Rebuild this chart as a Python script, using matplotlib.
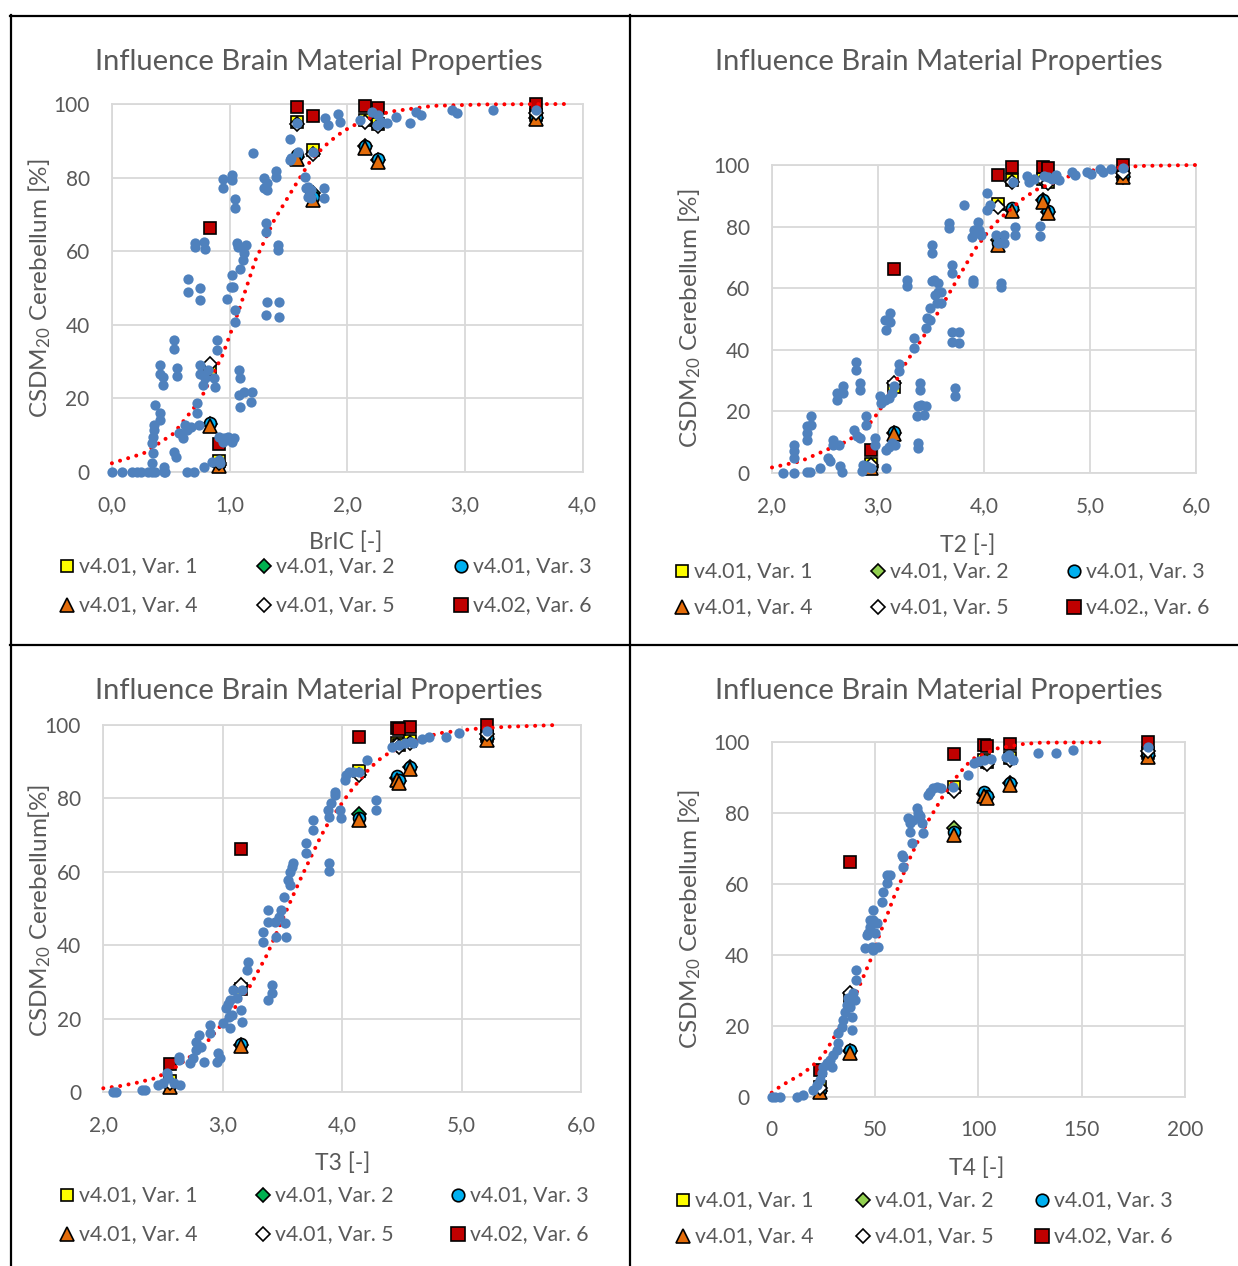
import matplotlib
matplotlib.use("Agg")
import matplotlib.pyplot as plt
from matplotlib.lines import Line2D

plt.rcParams["font.family"] = ["Lato", "DejaVu Sans"]
plt.rcParams["mathtext.fontset"] = "custom"
plt.rcParams["mathtext.rm"] = "Lato"
plt.rcParams["mathtext.it"] = "Lato:italic"

# ---------------------------------------------------------------- data
# Seven reference impact cases (A..G): metric value per case
cases = ["A", "B", "C", "D", "E", "F", "G"]
bric_case = [0.91, 0.83, 1.57, 1.71, 2.15, 2.26, 3.60]
t2_case = [2.93, 3.15, 4.26, 4.13, 4.56, 4.60, 5.31]
t3_case = [2.56, 3.15, 4.46, 4.14, 4.57, 4.48, 5.21]
t4_case = [23.5, 38.0, 102.5, 88.0, 115.5, 104.0, 182.0]

# CSDM20 cerebellum [%] per brain material variant and case
var1_y = [3.0, 28.0, 95.0, 87.5, 95.6, 94.5, 97.0]
var2_y = [1.8, 13.0, 85.5, 75.8, 88.5, 84.7, 96.2]
var3_y = [2.0, 13.2, 86.0, 74.6, 88.6, 85.0, 96.6]
var4_y = [1.5, 12.5, 85.0, 74.0, 88.0, 84.3, 96.0]
var5_y = [2.5, 29.3, 94.5, 86.4, 95.0, 94.0, 97.5]
var6_y = [7.6, 66.3, 99.3, 96.8, 99.5, 99.0, 100.0]

variant_labels = ["v4.01, Var. 1", "v4.01, Var. 2", "v4.01, Var. 3",
                  "v4.01, Var. 4", "v4.01, Var. 5", "v4.02, Var. 6"]
variant_labels_t2 = ["v4.01, Var. 1", "v4.01, Var. 2", "v4.01, Var. 3",
                     "v4.01, Var. 4", "v4.01, Var. 5", "v4.02., Var. 6"]

# Full simulation set (blue points)
bric_x = [0.0, 0.085, 0.17, 0.21, 0.25, 0.31, 0.34, 0.37, 0.44, 0.45, 0.64, 0.70,
          0.78, 0.85, 0.91, 0.92,
          0.34, 0.35, 0.34, 0.35, 0.355, 0.355, 0.41, 0.41, 0.37, 0.44,
          0.41, 0.41, 0.43, 0.43,
          0.53, 0.53, 0.55, 0.55,
          0.525, 0.545,
          0.57, 0.605, 0.64, 0.67, 0.625, 0.72, 0.72, 0.74,
          0.75, 0.75, 0.77, 0.79, 0.82, 0.87, 0.875, 0.89, 0.89,
          0.91, 0.95, 0.99, 1.04, 1.02, 0.94,
          0.65, 0.65, 0.75, 0.75,
          0.71, 0.71, 0.78, 0.79,
          0.94, 0.94, 1.02, 1.02,
          1.045, 1.045,
          1.065, 1.136, 1.07, 1.12, 1.11, 1.09, 1.02, 1.01, 0.98, 1.05, 1.045, 1.03,
          1.08, 1.09, 1.08, 1.12, 1.09, 1.19, 1.185,
          1.20,
          1.29, 1.32, 1.29, 1.32, 1.39, 1.39,
          1.31, 1.31, 1.41, 1.41,
          1.32, 1.31, 1.42, 1.42,
          1.51, 1.52, 1.58, 1.51, 1.57,
          1.64, 1.65, 1.67, 1.69, 1.69, 1.80, 1.67, 1.80, 1.71,
          1.81, 1.84, 1.92, 1.94,
          2.11, 2.21, 2.26, 2.29, 2.34, 2.25, 2.41, 2.53, 2.58, 2.63, 2.89, 2.93, 3.24, 3.60]
bric_y = [0, 0, 0, 0, 0, 0, 0, 0, 0, 0, 0, 0,
          1.4, 2.7, 3.2, 2.3,
          2.3, 5.0, 7.7, 9.5, 11.3, 12.7, 14.0, 15.9, 18.1, 1.4,
          29.0, 26.7, 25.8, 23.6,
          35.8, 33.3, 28.1, 26.0,
          5.4, 4.1,
          10.4, 9.1, 11.3, 12.2, 12.7, 18.6, 15.9, 12.7,
          26.7, 29.0, 23.6, 25.4, 27.6, 25.4, 23.1, 35.8, 33.1,
          9.5, 9.1, 9.5, 9.1, 8.2, 8.2,
          52.3, 49.0, 49.9, 46.7,
          62.1, 61.2, 62.6, 60.7,
          79.5, 77.1, 80.7, 79.3,
          74.1, 71.6,
          62.1, 61.7, 61.2, 59.4, 57.6, 55.0, 53.5, 50.3, 47.1, 44.0, 40.8, 50.3,
          27.7, 25.4, 20.9, 21.8, 17.7, 21.8, 19.0,
          86.8,
          79.8, 78.4, 77.1, 76.6, 81.9, 80.2,
          67.7, 65.3, 61.7, 60.3,
          46.2, 42.6, 46.2, 42.2,
          90.4, 85.2, 87.0, 84.8, 94.7,
          80.2, 77.1, 77.5, 76.6, 74.3, 77.1, 74.8, 74.3, 87.0,
          96.1, 94.3, 97.2, 95.1,
          95.6, 97.8, 96.9, 95.1, 94.8, 94.3, 96.4, 94.8, 97.9, 97.0, 98.4, 97.6, 98.4, 98.4]

t2_x = [2.10, 2.21, 2.33, 2.36, 2.45, 2.53, 2.55, 2.64, 2.66, 2.85, 2.86, 2.93, 2.90,
        2.21, 2.21, 2.21, 2.33, 2.33, 2.33, 2.37, 2.37,
        2.58, 2.63, 2.58, 2.61, 2.61, 2.67, 2.67,
        2.77, 2.80, 2.83, 2.79, 2.79, 2.83, 2.83, 2.89, 2.89,
        2.97, 2.97, 3.08, 3.10, 3.13, 3.16, 3.08,
        3.02, 3.03, 3.07, 3.10, 3.13, 3.15,
        3.07, 3.08, 3.11, 3.11,
        3.20, 3.20, 3.27, 3.27,
        3.34, 3.34, 3.40, 3.40, 3.38, 3.41, 3.45, 3.43, 3.37, 3.38, 3.38,
        3.45, 3.46, 3.49, 3.49, 3.56, 3.54, 3.57, 3.51, 3.53, 3.57, 3.51, 3.51,
        3.67, 3.67, 3.70, 3.70, 3.70, 3.76, 3.70, 3.76, 3.73, 3.73,
        3.59, 3.59,
        3.81, 3.90, 3.90, 3.91, 3.94, 3.95, 3.89, 3.97, 4.03, 4.03, 4.06,
        4.16, 4.16, 4.11, 4.13, 4.19, 4.19, 4.29, 4.29, 4.53, 4.53,
        4.27, 4.41, 4.42, 4.47, 4.57, 4.60, 4.64, 4.68, 4.71, 4.83, 4.86, 4.97, 5.01,
        5.09, 5.12, 5.20, 5.31]
t2_y = [0, 0, 0.3, 0.3, 1.6, 4.9, 3.8, 2.2, 0.2, 0.5, 2.7, 1.6, 2.4,
        9.2, 7.0, 4.9, 15.1, 13.0, 10.8, 18.4, 15.7,
        10.8, 9.2, 9.2, 25.9, 23.8, 28.1, 25.9,
        14.1, 11.9, 11.4, 35.9, 33.3, 29.2, 27.0, 18.4, 15.7,
        11.4, 9.2, 1.6, 8.6, 9.7, 9.2, 7.6,
        24.9, 22.7, 23.8, 24.3, 25.9, 28.1,
        49.7, 46.5, 52.1, 48.9,
        35.5, 33.0, 62.7, 60.8,
        43.8, 40.5, 29.2, 27.0, 21.6, 22.2, 21.6, 18.9, 18.4, 9.7, 8.1,
        47.0, 50.3, 53.5, 49.7, 55.1, 57.8, 58.9, 62.2, 62.7, 61.6, 74.1, 71.4,
        81.1, 79.4, 67.5, 65.0, 45.9, 45.9, 42.6, 42.3, 27.5, 25.0,
        58.9, 55.1,
        87.0, 62.7, 61.6, 78.9, 81.6, 78.9, 76.7, 77.3, 90.8, 85.4, 87.0,
        60.5, 61.6, 77.3, 74.6, 77.3, 74.6, 80.0, 77.3, 80.2, 77.0,
        94.6, 96.4, 94.6, 95.3, 96.4, 96.0, 95.3, 96.8, 95.1, 97.6, 96.8, 97.8, 97.0,
        98.6, 97.8, 98.6, 98.9]

t3_x = [2.08, 2.11, 2.32, 2.35, 2.46, 2.50, 2.53, 2.54, 2.59, 2.64, 2.63, 2.63, 2.73, 2.75,
        2.78, 2.78, 2.80, 2.82, 2.84, 2.89, 2.89, 2.95, 2.96, 2.98,
        3.06, 3.05, 3.03, 3.06, 3.09, 3.12, 3.15, 3.16, 3.16, 3.20, 3.21, 3.00, 3.04, 3.08,
        3.34, 3.34, 3.38, 3.38, 3.44, 3.45, 3.47, 3.49, 3.51, 3.52, 3.53,
        3.38, 3.41, 3.41,
        3.55, 3.56, 3.59, 3.58, 3.56,
        3.70, 3.70, 3.76, 3.76,
        3.89, 3.89, 3.88, 3.89, 3.91, 3.94, 3.94, 3.98, 3.99, 4.02, 4.03, 4.06, 4.09, 4.14,
        4.21, 4.28, 4.28,
        4.42, 4.48, 4.53, 4.58, 4.59, 4.67, 4.73, 4.87, 4.98, 5.21]
t3_y = [0, 0, 0.5, 0.5, 2.0, 2.5, 5.2, 3.8, 2.5, 2.0, 8.8, 9.7, 7.9, 9.3,
        11.5, 13.8, 15.6, 12.4, 8.3, 18.3, 16.1, 8.3, 10.6, 9.3,
        17.4, 20.6, 22.9, 25.1, 27.9, 25.6, 22.4, 19.2, 27.9, 33.3, 35.6, 19.0, 24.0, 21.0,
        41.0, 43.7, 46.5, 49.6, 46.5, 42.4, 47.8, 49.6, 53.3, 46.0, 42.4,
        25.1, 26.9, 29.2,
        57.8, 60.1, 62.3, 61.4, 56.4,
        65.1, 67.8, 71.4, 74.1,
        62.3, 60.3, 76.9, 75.0, 78.7, 80.9, 81.8, 76.9, 74.6, 85.0, 86.4, 87.3, 87.3, 87.3,
        90.5, 79.6, 76.9,
        94.1, 94.6, 95.2, 95.5, 95.0, 96.1, 96.8, 96.8, 97.7, 98.5]

t4_x = [0, 1.6, 4.0, 12.1, 15.3, 20.2, 21.8, 23.4, 24.2, 25.0, 26.6, 28.2, 29.0, 29.8,
        31.5, 32.3, 32.3, 33.9, 34.7, 35.5, 36.3, 37.1, 37.9, 38.7, 38.7, 39.5, 40.3,
        40.8, 40.8,
        45.2, 46.0, 47.6, 47.6, 49.2, 49.2, 50.0, 50.8, 51.6, 48.4, 49.2, 46.8,
        53.2, 54.0, 55.6, 56.5, 55.6, 57.3,
        63.7, 63.7, 67.7, 66.9, 66.9, 66.1, 68.5, 70.5, 71.0, 72.6, 73.4, 71.8, 62.9,
        75.8, 76.6, 78.2, 79.8, 81.9, 87.6, 94.8, 98.1, 100.5, 102.9, 106.1, 113.4,
        116.6, 115.0, 128.7, 137.6, 145.6, 182.3]
t4_y = [0, 0, 0, 0.2, 0.7, 2.1, 3.5, 4.9, 6.8, 8.6, 9.6, 10.5, 8.6, 11.9,
        13.3, 15.2, 18.0, 19.9, 21.8, 24.1, 26.0, 27.9, 25.5, 22.7, 19.0, 29.3, 27.4,
        33.0, 35.9,
        42.0, 45.7, 48.1, 50.0, 52.8, 50.0, 46.2, 49.0, 42.4, 42.4, 41.5, 46.2,
        55.1, 57.9, 60.3, 62.2, 62.6, 62.6,
        65.0, 67.8, 71.5, 74.8, 77.2, 78.6, 78.1, 81.4, 80.0, 77.2, 74.4, 79.1, 68.3,
        85.2, 86.1, 87.0, 87.5, 87.0, 87.5, 90.8, 94.1, 94.6, 95.0, 95.2, 96.0,
        95.0, 96.4, 96.9, 97.1, 97.8, 98.8]

# Risk curves (dotted red)
bric_fit_x = [0.0, 0.27, 0.525, 0.75, 0.94, 1.08, 1.22, 1.38, 1.55, 1.70, 1.85, 1.97,
              2.15, 2.36, 2.73, 3.2, 3.88]
bric_fit_y = [2.3, 5.0, 10.4, 19.5, 31.7, 44.0, 57.6, 68.5, 77.5, 85.2, 89.8, 92.7,
              95.8, 97.9, 99.5, 99.9, 100.0]
t2_fit_x = [2.0, 2.27, 2.52, 2.71, 2.90, 3.01, 3.15, 3.27, 3.43, 3.59, 3.75, 3.91,
            4.06, 4.17, 4.35, 4.49, 4.79, 5.07, 5.48, 6.0]
t2_fit_y = [1.8, 3.8, 7.6, 10.3, 15.1, 20.0, 28.6, 36.2, 44.3, 53.5, 63.0, 72.4,
            79.4, 83.2, 88.6, 91.9, 96.2, 98.6, 99.7, 100.0]
t3_fit_x = [2.0, 2.14, 2.28, 2.43, 2.57, 2.72, 2.85, 2.98, 3.09, 3.23, 3.37, 3.52,
            3.64, 3.72, 3.82, 3.89, 4.05, 4.10, 4.23, 4.34, 4.50, 4.80, 5.09, 5.37, 5.80]
t3_fit_y = [1.1, 1.7, 2.6, 3.8, 6.0, 9.5, 13.0, 18.0, 22.5, 29.0, 37.4, 48.5,
            57.3, 62.8, 69.6, 73.7, 81.1, 83.2, 88.2, 91.4, 94.2, 97.7, 98.9, 99.5, 100.0]
t4_fit_x = [0, 4, 8, 15.3, 20, 25, 29, 33, 39.5, 44.4, 49.2, 52.4, 55.6, 58.9, 62.1,
            65.3, 70.2, 75, 79, 83, 88.4, 94, 98, 109.4, 121.5, 130.3, 159]
t4_fit_y = [1.3, 3.0, 4.4, 6.8, 9.0, 11.9, 15.7, 19.9, 27.4, 34.0, 40.6, 46.2, 50.9,
            56.1, 60.3, 65.4, 71.5, 77.2, 81.0, 85.0, 89.5, 93.5, 95.5, 98.3, 99.5,
            99.9, 100.0]

bric_ticks = [0, 1, 2, 3, 4]
bric_ticklabels = ["0,0", "1,0", "2,0", "3,0", "4,0"]
t_ticks = [2, 3, 4, 5, 6]
t_ticklabels = ["2,0", "3,0", "4,0", "5,0", "6,0"]
t4_ticks = [0, 50, 100, 150, 200]
t4_ticklabels = ["0", "50", "100", "150", "200"]
y_ticks = [0, 20, 40, 60, 80, 100]

# ---------------------------------------------------------------- styling
W, H = 1238, 1266
GREY = "#595959"
GRID = "#D9D9D9"
BLUE = "#4F81BD"
FIT = "#FF0000"
DARK_GREEN = "#00B050"
LIGHT_GREEN = "#92D050"


def rect(l, t, r, b):
    return [l / W, 1 - b / H, (r - l) / W, (b - t) / H]


def fig_xy(x, y):
    return x / W, 1 - y / H


def variant_styles(green):
    # marker, face colour, size
    return [("s", "#FFFF00", 8.6), ("D", green, 6.8), ("o", "#00B0F0", 8.6),
            ("^", "#E46C0A", 9.4), ("D", "#FFFFFF", 6.8), ("s", "#C00000", 9.0)]


fig = plt.figure(figsize=(W / 100, H / 100), dpi=100)


def panel(box, xlim, xticks, xticklabels, case_x, bx, by, fx, fy, green,
          title_xy, ylabel, ylabel_xy, xlabel, xlabel_xy, labels, leg_cols, leg_rows,
          xpad, ypad):
    ax = fig.add_axes(rect(*box))
    ax.set_xlim(*xlim)
    ax.set_ylim(0, 100)
    ax.set_xticks(xticks)
    ax.set_xticklabels(xticklabels)
    ax.set_yticks(y_ticks)
    ax.grid(True, color=GRID, lw=1.3)
    ax.set_axisbelow(True)
    for s in ax.spines.values():
        s.set_color(GRID)
        s.set_linewidth(1.3)
    ax.tick_params(length=0, colors=GREY, labelsize=15)
    ax.tick_params(axis="x", pad=xpad)
    ax.tick_params(axis="y", pad=ypad)

    styles = variant_styles(green)
    series = [var1_y, var2_y, var3_y, var4_y, var5_y, var6_y]
    for (m, c, ms), yv in zip(styles, series):
        ax.plot(case_x, yv, ls="none", marker=m, ms=ms, mfc=c, mec="black",
                mew=1.2, zorder=3, clip_on=False)
    ax.plot(fx, fy, color=FIT, lw=2.9, ls=(0, (0.01, 2.1)),
            dash_capstyle="round", zorder=4, clip_on=False)
    ax.plot(bx, by, ls="none", marker="o", ms=7.4, mfc=BLUE, mec="none",
            zorder=5, clip_on=False)

    fig.text(*fig_xy(*title_xy), "Influence Brain Material Properties",
             ha="center", va="center", fontsize=21, color=GREY)
    fig.text(*fig_xy(*ylabel_xy), ylabel, ha="center", va="center",
             rotation=90, fontsize=17.5, color=GREY)
    fig.text(*fig_xy(*xlabel_xy), xlabel, ha="center", va="center",
             fontsize=16.5, color=GREY)

    for i, ((m, c, ms), lab) in enumerate(zip(styles, labels)):
        cx = leg_cols[i % 3]
        cy = leg_rows[i // 3]
        fig.add_artist(Line2D([cx / W], [1 - cy / H], transform=fig.transFigure,
                              ls="none", marker=m, ms=ms * 1.05, mfc=c,
                              mec="black", mew=1.2))
        fig.text(*fig_xy(cx + 12, cy), lab, ha="left", va="center",
                 fontsize=15.3, color=GREY)
    return ax


ylab = r"CSDM$_{\mathrm{20}}$ Cerebellum [%]"
ylab_tight = r"CSDM$_{\mathrm{20}}$ Cerebellum[%]"

panel((111.9, 104, 582.7, 471.7), (0, 4), bric_ticks, bric_ticklabels, bric_case,
      bric_x, bric_y, bric_fit_x, bric_fit_y, DARK_GREEN,
      (319, 62), ylab, (40, 288), "BrIC [-]", (346, 542), variant_labels,
      [67, 264, 461], [566, 605], 16.5, 16)

panel((772, 165, 1196, 473), (2, 6), t_ticks, t_ticklabels, t2_case,
      t2_x, t2_y, t2_fit_x, t2_fit_y, LIGHT_GREEN,
      (939, 62), ylab, (690, 318), "T2 [-]", (968, 545), variant_labels_t2,
      [682, 878, 1074], [571, 607], 16.5, 16)

panel((103.3, 725, 581, 1092.3), (2, 6), t_ticks, t_ticklabels, t3_case,
      t3_x, t3_y, t3_fit_x, t3_fit_y, DARK_GREEN,
      (319, 691), ylab_tight, (40, 910), "T3 [-]", (343, 1163), variant_labels,
      [67, 263, 458], [1195, 1234], 16.5, 16)

panel((771.7, 742.3, 1185, 1097.3), (0, 200), t4_ticks, t4_ticklabels, t4_case,
      t4_x, t4_y, t4_fit_x, t4_fit_y, LIGHT_GREEN,
      (939, 691), ylab, (690, 919), "T4 [-]", (977, 1168), variant_labels,
      [683, 863, 1042], [1200, 1236], 16.5, 16)

# Table-style frame around the four panels
frame = [((10, 15.5), (1238, 15.5)), ((10.5, 15), (10.5, 1266)),
         ((630, 15), (630, 1266)), ((10, 644.5), (1238, 644.5))]
for (x0, y0), (x1, y1) in frame:
    fig.add_artist(Line2D([x0 / W, x1 / W], [1 - y0 / H, 1 - y1 / H],
                          transform=fig.transFigure, color="black", lw=1.6))

fig.savefig("out.png", dpi=100)
